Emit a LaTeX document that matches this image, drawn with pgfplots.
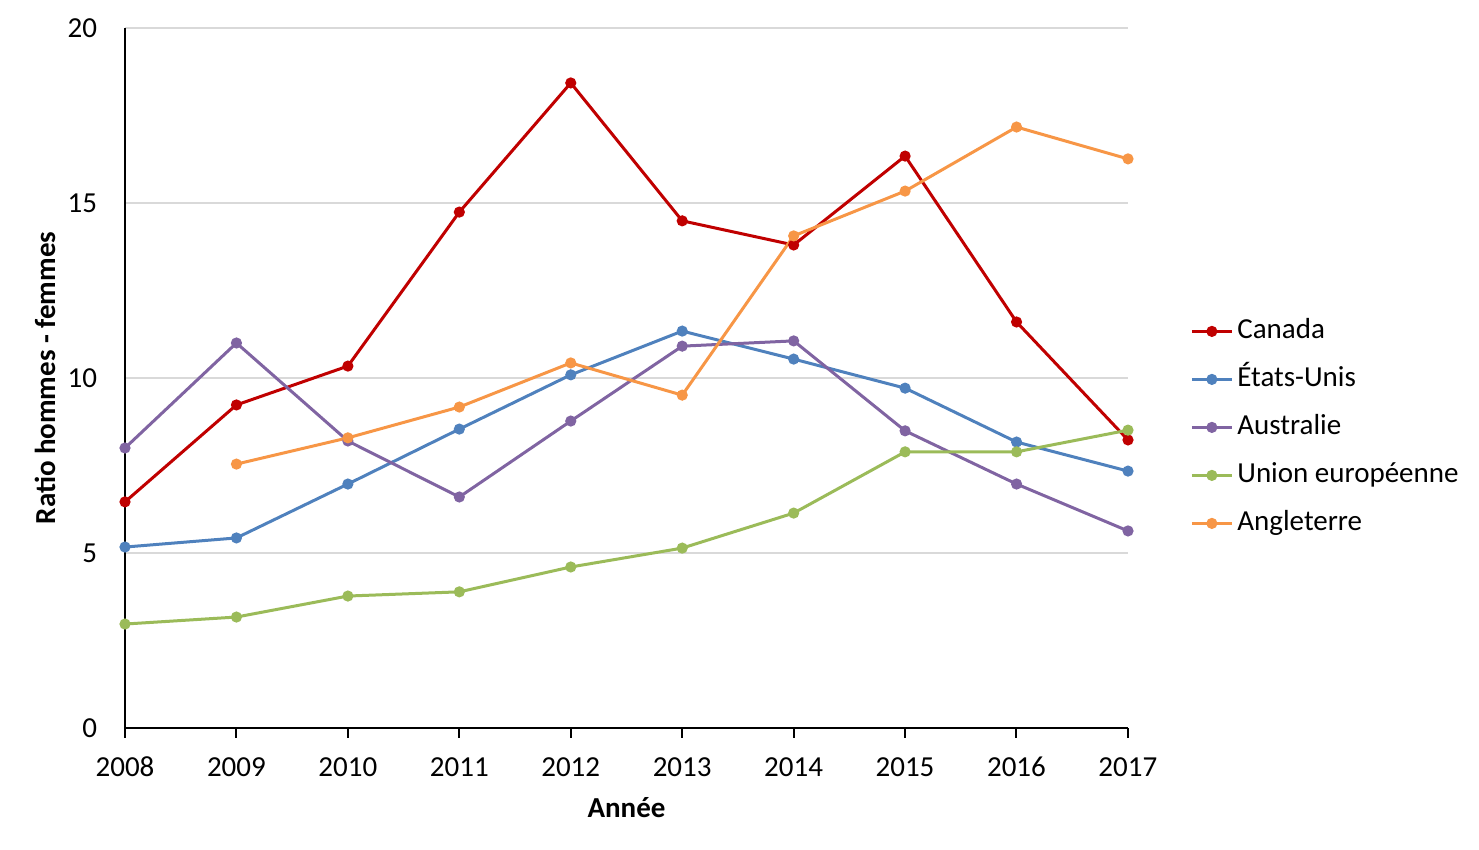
\documentclass[border=0pt]{standalone}
\usepackage{fontspec}
\setmainfont{Carlito}
\usepackage{pgfplots}
\pgfplotsset{compat=1.18}
\definecolor{cCan}{HTML}{C00000}
\definecolor{cUS}{HTML}{4F81BD}
\definecolor{cAus}{HTML}{8064A2}
\definecolor{cUE}{HTML}{9BBB59}
\definecolor{cAng}{HTML}{F79646}
\definecolor{cGrid}{HTML}{D9D9D9}
\begin{document}
\begin{tikzpicture}
\path[use as bounding box] (0,0) rectangle (739.5pt,425pt);
\begin{axis}[
  at={(62.5pt,61pt)}, anchor=south west,
  scale only axis, width=501.5pt, height=350pt,
  xmin=2008, xmax=2017, ymin=0, ymax=20,
  xtick={2008,...,2017}, ytick={0,5,10,15,20},
  x tick label style={/pgf/number format/1000 sep={}},
  /pgf/number format/assume math mode=true,
  font=\fontsize{14.5pt}{16pt}\selectfont,
  axis x line*=bottom, axis y line*=left,
  axis line style={black, line width=1pt},
  xtick style={black, line width=1pt}, tick align=outside,
  major tick length=5pt,
  ytick style={draw=none},
  ymajorgrids, grid style={cGrid, line width=1pt},
  yticklabel style={xshift=-5.5pt},
  xticklabel style={yshift=-5.5pt, text height=10pt, text depth=0pt},
  xlabel={\textbf{Année}}, ylabel={\textbf{Ratio hommes - femmes}},
  xlabel style={at={(axis description cs:0.5,-0.1143)}, anchor=center},
  ylabel style={at={(axis description cs:-0.0798,0.5)}, anchor=center},
  every axis plot/.append style={line width=1.5pt, mark=*, mark size=2pt, mark options={solid}},
  legend style={at={(axis description cs:1.0618,0.5857)}, anchor=north west, draw=none, fill=none,
    inner sep=0pt, row sep=11pt, column sep=2pt,
    nodes={inner sep=0pt, text height=10pt, text depth=3pt},
    font=\fontsize{14.5pt}{16pt}\selectfont},
  legend cell align=left,
  legend image code/.code={\draw[mark repeat=2,mark phase=2] plot coordinates {(0pt,0pt) (10pt,0pt) (20pt,0pt)};},
  clip=false,
]
\addplot[color=cCan] coordinates {(2008,6.46) (2009,9.23) (2010,10.34) (2011,14.74) (2012,18.43) (2013,14.49) (2014,13.8) (2015,16.34) (2016,11.6) (2017,8.23)};
\addlegendentry{Canada}
\addplot[color=cUS] coordinates {(2008,5.17) (2009,5.43) (2010,6.97) (2011,8.54) (2012,10.09) (2013,11.34) (2014,10.54) (2015,9.71) (2016,8.17) (2017,7.34)};
\addlegendentry{États-Unis}
\addplot[color=cAus] coordinates {(2008,8.0) (2009,11.0) (2010,8.2) (2011,6.6) (2012,8.77) (2013,10.91) (2014,11.06) (2015,8.49) (2016,6.97) (2017,5.63)};
\addlegendentry{Australie}
\addplot[color=cUE] coordinates {(2008,2.97) (2009,3.17) (2010,3.77) (2011,3.89) (2012,4.6) (2013,5.14) (2014,6.14) (2015,7.89) (2016,7.89) (2017,8.51)};
\addlegendentry{Union européenne}
\addplot[color=cAng] coordinates {(2009,7.54) (2010,8.29) (2011,9.17) (2012,10.43) (2013,9.51) (2014,14.06) (2015,15.34) (2016,17.17) (2017,16.26)};
\addlegendentry{Angleterre}
\end{axis}
\end{tikzpicture}
\end{document}
